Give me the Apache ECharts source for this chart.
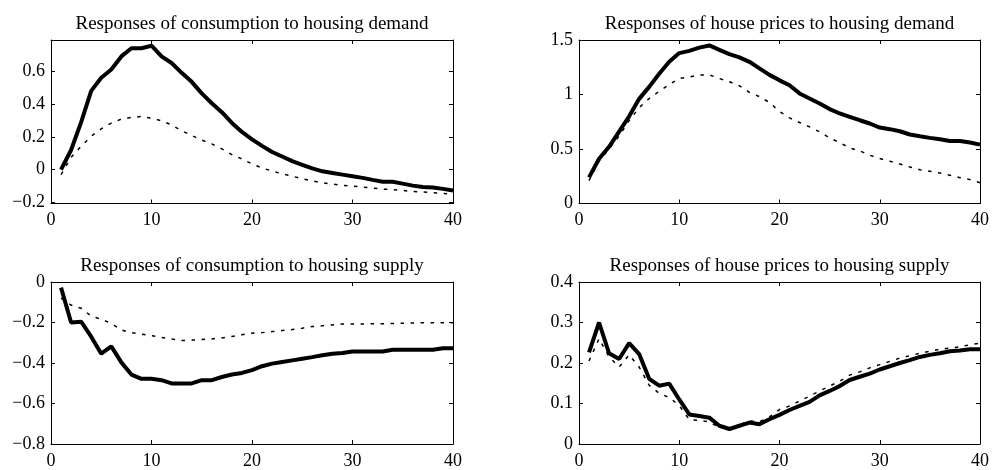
<!DOCTYPE html>
<html>
<head>
<meta charset="utf-8">
<script src="https://cdn.jsdelivr.net/npm/echarts@6/dist/echarts.min.js"></script>
<style>
html,body{margin:0;padding:0;background:#fff;}
#main{width:992px;height:470px;}
</style>
</head>
<body>
<div id="main"></div>
<script>
// horizon (quarters)
var periods = [1,2,3,4,5,6,7,8,9,10,11,12,13,14,15,16,17,18,19,20,
               21,22,23,24,25,26,27,28,29,30,31,32,33,34,35,36,37,38,39,40];

var titles = [
    'Responses of consumption to housing demand',
    'Responses of house prices to housing demand',
    'Responses of consumption to housing supply',
    'Responses of house prices to housing supply'
];

// solid = thick line, dotted = thin dotted line
var consDemandSolid = [0.00,0.12,0.29,0.48,0.56,0.61,0.69,0.74,0.74,0.755,
                       0.69,0.65,0.59,0.535,0.465,0.405,0.35,0.285,0.23,0.185,
                       0.145,0.108,0.08,0.052,0.03,0.008,-0.01,-0.02,-0.03,-0.04,
                       -0.05,-0.062,-0.073,-0.074,-0.085,-0.097,-0.106,-0.108,-0.117,-0.127];
var consDemandDotted = [-0.03,0.075,0.143,0.204,0.249,0.284,0.308,0.318,0.324,0.314,
                        0.298,0.273,0.237,0.208,0.18,0.157,0.127,0.092,0.065,0.035,
                        0.01,-0.008,-0.025,-0.04,-0.055,-0.068,-0.08,-0.088,-0.095,-0.1,
                        -0.106,-0.112,-0.118,-0.122,-0.127,-0.132,-0.136,-0.14,-0.144,-0.15];

var priceDemandSolid = [0.24,0.41,0.52,0.66,0.80,0.96,1.07,1.19,1.30,1.38,
                        1.40,1.43,1.45,1.41,1.37,1.34,1.30,1.24,1.18,1.13,
                        1.085,1.01,0.963,0.918,0.866,0.826,0.795,0.764,0.734,0.697,
                        0.682,0.663,0.633,0.617,0.602,0.59,0.574,0.574,0.56,0.54];
var priceDemandDotted = [0.21,0.39,0.50,0.62,0.76,0.88,0.963,1.03,1.09,1.147,
                         1.16,1.18,1.18,1.147,1.117,1.08,1.02,0.98,0.927,0.845,
                         0.786,0.743,0.703,0.657,0.602,0.559,0.51,0.483,0.443,0.412,
                         0.388,0.363,0.335,0.31,0.296,0.28,0.259,0.237,0.219,0.19];

var consSupplySolid = [-0.028,-0.20,-0.196,-0.27,-0.354,-0.318,-0.397,-0.457,-0.478,-0.478,
                       -0.485,-0.501,-0.501,-0.501,-0.485,-0.485,-0.469,-0.457,-0.449,-0.435,
                       -0.416,-0.403,-0.395,-0.387,-0.379,-0.371,-0.362,-0.354,-0.351,-0.343,
                       -0.343,-0.343,-0.343,-0.335,-0.335,-0.335,-0.335,-0.335,-0.327,-0.327];
var consSupplyDotted = [-0.08,-0.114,-0.13,-0.168,-0.184,-0.204,-0.237,-0.25,-0.258,-0.265,
                        -0.274,-0.282,-0.289,-0.287,-0.284,-0.281,-0.276,-0.269,-0.26,-0.253,
                        -0.25,-0.245,-0.24,-0.235,-0.228,-0.22,-0.216,-0.212,-0.208,-0.207,
                        -0.207,-0.206,-0.206,-0.205,-0.204,-0.202,-0.201,-0.201,-0.201,-0.201];

var priceSupplySolid = [0.226,0.30,0.224,0.21,0.249,0.222,0.161,0.144,0.149,0.11,
                        0.073,0.069,0.065,0.045,0.037,0.045,0.053,0.049,0.061,0.072,
                        0.084,0.094,0.104,0.12,0.131,0.143,0.158,0.166,0.174,0.184,
                        0.192,0.2,0.207,0.215,0.22,0.224,0.229,0.231,0.234,0.234];
var priceSupplyDotted = [0.205,0.26,0.215,0.19,0.22,0.19,0.145,0.125,0.115,0.095,
                         0.06,0.058,0.055,0.04,0.038,0.047,0.057,0.055,0.067,0.085,
                         0.094,0.106,0.118,0.131,0.143,0.155,0.17,0.178,0.188,0.196,
                         0.204,0.212,0.218,0.224,0.229,0.234,0.237,0.24,0.245,0.249];

var xTicks = [0,10,20,30,40];
var yTicksConsDemand = [-0.2,0,0.2,0.4,0.6];
var yTicksPriceDemand = [0,0.5,1,1.5];
var yTicksConsSupply = [-0.8,-0.6,-0.4,-0.2,0];
var yTicksPriceSupply = [0,0.1,0.2,0.3,0.4];

var myChart = echarts.init(document.getElementById('main'));

var panels = [
    {solid: consDemandSolid, dotted: consDemandDotted, ticks: yTicksConsDemand, min: -0.206, max: 0.79,
     left: 51, top: 40, width: 402},
    {solid: priceDemandSolid, dotted: priceDemandDotted, ticks: yTicksPriceDemand, min: 0, max: 1.5,
     left: 579, top: 40, width: 401},
    {solid: consSupplySolid, dotted: consSupplyDotted, ticks: yTicksConsSupply, min: -0.8, max: 0,
     left: 51, top: 282, width: 402},
    {solid: priceSupplySolid, dotted: priceSupplyDotted, ticks: yTicksPriceSupply, min: 0, max: 0.4,
     left: 579, top: 282, width: 401}
];

var font = 'Liberation Serif';
var fmt = function (v) {
    var s = String(Math.round(v * 1000) / 1000);
    return s.replace('-', '\u2212');
};

function pairs(arr) {
    return periods.map(function (t, k) { return [t, arr[k]]; });
}

var option = {
    animation: false,
    backgroundColor: '#fff',
    title: [],
    grid: [],
    xAxis: [],
    yAxis: [],
    series: []
};

panels.forEach(function (p, i) {
    option.title.push({
        text: titles[i],
        left: p.left + p.width / 2,
        top: p.top - 25,
        textAlign: 'center',
        padding: 0,
        textStyle: {fontFamily: font, fontSize: 19, fontWeight: 'normal', color: '#000'}
    });
    option.grid.push({left: p.left, top: p.top, width: p.width, height: 163.5});

    ['bottom', 'top'].forEach(function (pos) {
        option.xAxis.push({
            type: 'value', gridIndex: i, position: pos, min: 0, max: 40,
            axisLine: {show: true, onZero: false, lineStyle: {color: '#000', width: 1}},
            axisTick: {show: true, inside: true, length: 4, customValues: xTicks, lineStyle: {color: '#000'}},
            axisLabel: {show: pos === 'bottom', customValues: xTicks, margin: 8,
                        fontFamily: font, fontSize: 18, color: '#000', formatter: fmt},
            splitLine: {show: false}
        });
    });
    ['left', 'right'].forEach(function (pos) {
        option.yAxis.push({
            type: 'value', gridIndex: i, position: pos, min: p.min, max: p.max,
            axisLine: {show: true, onZero: false, lineStyle: {color: '#000', width: 1}},
            axisTick: {show: true, inside: true, length: 4, customValues: p.ticks, lineStyle: {color: '#000'}},
            axisLabel: {show: pos === 'left', customValues: p.ticks, margin: 6,
                        fontFamily: font, fontSize: 18, color: '#000', formatter: fmt},
            splitLine: {show: false}
        });
    });

    option.series.push({
        type: 'line', xAxisIndex: 2 * i, yAxisIndex: 2 * i,
        data: pairs(p.dotted), showSymbol: false, silent: true,
        lineStyle: {color: '#000', width: 1.5, type: [3.5, 6.5]}
    });
    option.series.push({
        type: 'line', xAxisIndex: 2 * i, yAxisIndex: 2 * i,
        data: pairs(p.solid), showSymbol: false, silent: true,
        lineStyle: {color: '#000', width: 4}
    });
});

myChart.setOption(option);
</script>
</body>
</html>
